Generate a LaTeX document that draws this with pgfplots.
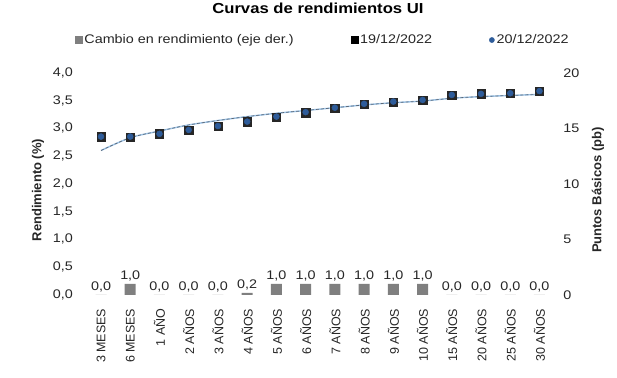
\documentclass[border=0pt]{standalone}
\usepackage{pgfplots}
\usepackage{pgfplotstable}
\pgfplotsset{compat=1.18}
\usepackage{fontspec}
\setmainfont{Liberation Sans}[FakeStretch=1.15]
\newfontfamily\rotfont{Liberation Sans}
\definecolor{barg}{HTML}{7F7F7F}
\definecolor{dblue}{HTML}{2E5C9A}
\definecolor{lblue}{HTML}{9DC3E6}
\definecolor{dashg}{HTML}{5A6878}
\definecolor{txt}{HTML}{262626}

\pgfplotstableread{
x y19 y20 trend bp
0  2.85  2.85 2.60 0.0
1  2.84  2.85 2.83 1.0
2  2.90  2.90 2.95 0.0
3  2.97  2.97 3.06 0.0
4  3.04  3.04 3.14 0.0
5  3.118 3.12 3.21 0.2
6  3.20  3.21 3.27 1.0
7  3.28  3.29 3.32 1.0
8  3.36  3.37 3.37 1.0
9  3.43  3.44 3.42 1.0
10 3.47  3.48 3.46 1.0
11 3.50  3.51 3.49 1.0
12 3.60  3.60 3.54 0.0
13 3.62  3.62 3.57 0.0
14 3.63  3.63 3.59 0.0
15 3.67  3.67 3.61 0.0
}\datatable

\begin{document}
\begin{tikzpicture}
\useasboundingbox (0,0) rectangle (617bp,378bp);
\pgfplotsset{
  common/.style={
    width=467.7bp, height=222.3bp, scale only axis,
    at={(86.4bp,83bp)}, anchor=south west,
    xmin=-0.5, xmax=15.5,
    axis line style={draw=none},
    major tick length=0pt,
    tick style={draw=none},
    /pgf/number format/assume math mode=true,
    tick label style={font=\fontsize{12.5bp}{15bp}\selectfont, text=txt},
  }
}
% right axis: bars
\begin{axis}[common,
  axis y line*=right,
  axis x line*=bottom,
  ymin=0, ymax=20,
  ytick={0,5,10,15,20},
  xtick=\empty,
  yticklabel style={anchor=west, inner sep=0pt, xshift=9bp},
  ylabel={Puntos Básicos (pb)},
  ylabel style={at={(axis description cs:1.094,0.472)}, anchor=center, rotate=0,
    font=\rotfont\bfseries\fontsize{13bp}{15bp}\selectfont, text=txt},
  y axis line style={draw=none},
  x axis line style={draw=none},
]
\addplot[ybar, bar width=11bp, fill=barg, draw=none,
  point meta=explicit,
  nodes near coords={\pgfmathprintnumber[fixed,fixed zerofill,precision=1,use comma,assume math mode=true]{\pgfplotspointmeta}},
  nodes near coords style={font=\fontsize{12.5bp}{15bp}\selectfont, text=txt, inner sep=2.5bp}]
  table[x=x, y=bp, meta=bp] {\datatable};
\end{axis}
% left axis: yields
\begin{axis}[common,
  ymin=0, ymax=4,
  ytick={0,0.5,...,4},
  yticklabel={\pgfmathprintnumber[fixed,fixed zerofill,precision=1,use comma,assume math mode=true]{\tick}},
  yticklabel style={anchor=east, inner sep=0pt, xshift=-13.4bp},
  xtick={0,...,15},
  xticklabels={3 MESES,6 MESES,1 AÑO,2 AÑOS,3 AÑOS,4 AÑOS,5 AÑOS,6 AÑOS,7 AÑOS,8 AÑOS,9 AÑOS,10 AÑOS,15 AÑOS,20 AÑOS,25 AÑOS,30 AÑOS},
  xticklabel style={yshift=-13.5bp, rotate=90, anchor=east, inner sep=0pt,
    font=\rotfont\fontsize{12.5bp}{15bp}\selectfont},
  ylabel={Rendimiento (\%)},
  ylabel style={at={(axis description cs:-0.1035,0.472)}, anchor=center,
    font=\rotfont\bfseries\fontsize{13bp}{15bp}\selectfont, text=txt},
  title={Curvas de rendimientos UI},
  title style={at={(axis description cs:0.495,1.261)}, anchor=center,
    font=\bfseries\fontsize{14.5bp}{17bp}\selectfont, text=black},
  legend columns=3,
  legend cell align=left,
  legend style={at={(axis description cs:-0.0244,1.147)}, anchor=west,
    draw=none, fill=none, inner sep=0pt, outer sep=0pt,
    font=\fontsize{12.5bp}{15bp}\selectfont, text=txt,
    nodes={inner sep=2bp},
    /tikz/every even column/.append style={column sep=55bp}},
]
\addlegendimage{legend image code/.code={\fill[barg] (0bp,-3.5bp) rectangle (7bp,3.5bp);}}
\addlegendentry{Cambio en rendimiento (eje der.)}
\addlegendimage{legend image code/.code={\fill[black] (0bp,-3.5bp) rectangle (7bp,3.5bp);}}
\addlegendentry{19/12/2022}
\addlegendimage{legend image code/.code={\fill[dblue] (3.5bp,0bp) circle (2.6bp);}}
\addlegendentry{20/12/2022}
\addplot[forget plot, smooth, color=lblue, line width=1.4bp] table[x=x, y=trend] {\datatable};
\addplot[forget plot, smooth, color=dashg, line width=0.7bp, dash pattern=on 3bp off 2bp] table[x=x, y=trend] {\datatable};
\addplot[forget plot, only marks, mark=square*, mark size=4.2bp, mark options={fill=black!85, draw=black!85}] table[x=x, y=y19] {\datatable};
\addplot[forget plot, only marks, mark=*, mark size=3bp, mark options={fill=dblue, draw=dblue}] table[x=x, y=y20] {\datatable};
\end{axis}
\end{tikzpicture}
\end{document}
